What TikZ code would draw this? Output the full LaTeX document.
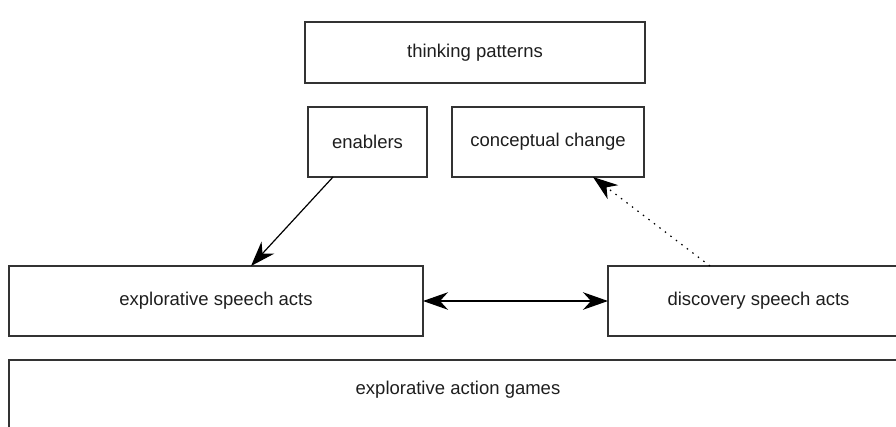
\documentclass[tikz,border=0pt]{standalone}
\usepackage{fontspec}
\setmainfont{Liberation Sans}
\usetikzlibrary{arrows.meta}
\definecolor{edge}{HTML}{333333}
\definecolor{ink}{HTML}{1E1E1E}
\tikzset{
  box/.style={draw=edge, line width=1.2pt, rectangle, inner sep=0pt, outer sep=0pt,
              text=ink, font=\fontsize{18.5}{22}\selectfont},
  link/.style={draw=black, line width=1.2pt},
  head/.tip={Stealth[length=25pt,width=17.5pt,inset=8pt]},
  fwd/.style={-head},
  both/.style={head-head},
  dots/.style={dash pattern=on 1.5pt off 5.4pt}
}
\begin{document}
\begin{tikzpicture}[x=1pt,y=-1pt]
  \useasboundingbox (0,0) rectangle (896,426);
  \begin{scope}
    \clip (0,0) rectangle (896,426);
    \node[box, minimum width=340pt, minimum height=61pt] (tp)  at (475,52.5) {thinking patterns};
    \node[box, minimum width=119pt, minimum height=70pt] (en)  at (367.5,142) {enablers};
    \node[box, minimum width=192pt, minimum height=70pt] (cc)  at (548,142) {conceptual change};
    \node[box, minimum width=414pt, minimum height=70pt] (esa) at (216,301) {explorative speech acts};
    \node[box, minimum width=301pt, minimum height=70pt] (dsa) at (758.5,301) {discovery speech acts};
    \node[box, minimum width=900pt, minimum height=90pt] (eag) at (459,405) {};
    \node[text=ink, font=\fontsize{18.5}{22}\selectfont] (eagt) at (458,390) {explorative action games};
  \end{scope}
  \draw[link, fwd] ([xshift=-34.5pt]en.south) -- ([xshift=35pt]esa.north);
  \draw[link, both] (esa.east) -- (dsa.west);
  \draw[link, fwd, dots] ([xshift=-48.5pt]dsa.north) -- ([xshift=45pt]cc.south);
\end{tikzpicture}
\end{document}
